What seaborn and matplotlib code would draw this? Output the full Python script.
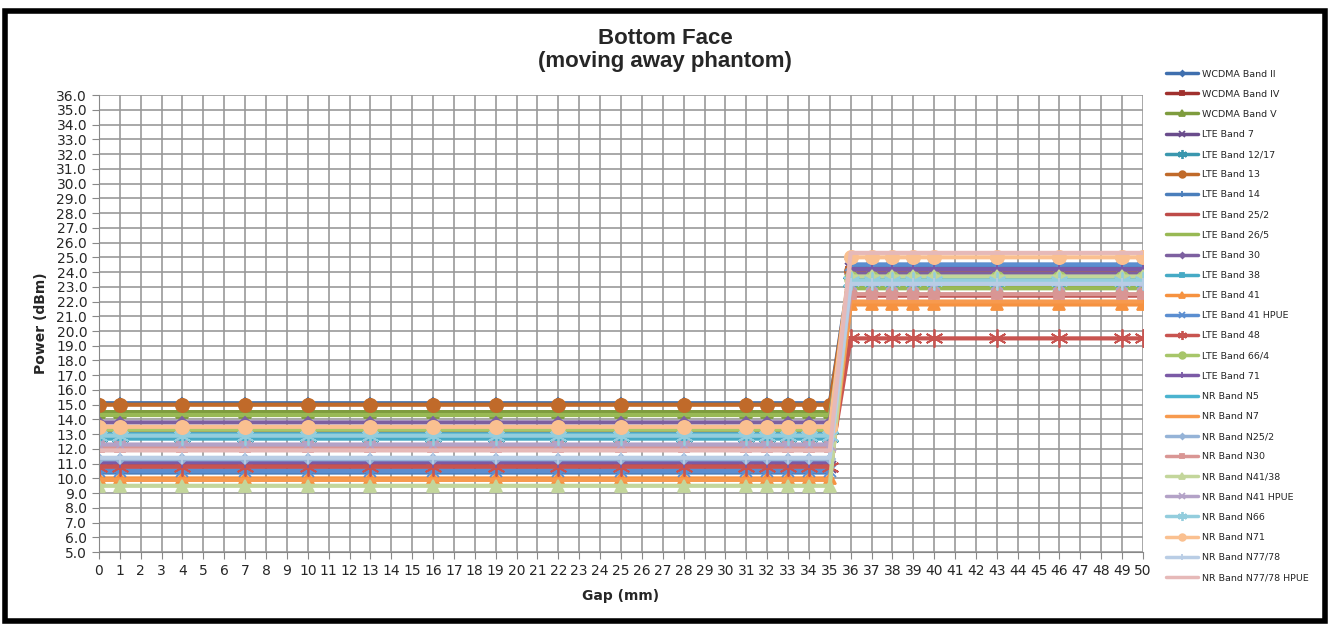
import numpy as np
import pandas as pd
import matplotlib
matplotlib.use("Agg")
import matplotlib.pyplot as plt
from matplotlib.patches import Rectangle
import seaborn as sns

# Gap positions measured (mm)
gaps = [0, 1, 4, 7, 10, 13, 16, 19, 22, 25, 28, 31, 32, 33, 34, 35,
        36, 37, 38, 39, 40, 43, 46, 49, 50]

bands = ['WCDMA Band II', 'WCDMA Band IV', 'WCDMA Band V', 'LTE Band 7',
         'LTE Band 12/17', 'LTE Band 13', 'LTE Band 14', 'LTE Band 25/2',
         'LTE Band 26/5', 'LTE Band 30', 'LTE Band 38', 'LTE Band 41',
         'LTE Band 41 HPUE', 'LTE Band 48', 'LTE Band 66/4', 'LTE Band 71',
         'NR Band N5', 'NR Band N7', 'NR Band N25/2', 'NR Band N30',
         'NR Band N41/38', 'NR Band N41 HPUE', 'NR Band N66', 'NR Band N71',
         'NR Band N77/78', 'NR Band N77/78 HPUE']

# power (dBm) with gap <= 35 mm (close to phantom) and >= 36 mm (backed off)
near_power = [15.1, 13.2, 14.5, 10.8, 12.8, 15.0, 10.4, 11.0,
              14.3, 13.8, 12.7, 10.0, 10.5, 10.8, 13.3, 11.1,
              13.0, 9.9, 11.3, 12.1, 9.5, 12.3, 12.9, 13.5,
              11.4, 11.9]
far_power = [24.3, 24.0, 23.0, 24.2, 23.3, 24.1, 24.5, 22.4,
             22.9, 23.9, 23.4, 21.8, 24.5, 19.5, 23.6, 24.2,
             23.5, 22.0, 23.3, 22.5, 23.7, 23.2, 23.4, 25.0,
             23.2, 25.3]

colors = ['#3F6FAE', '#A0302D', '#7E9C3E', '#6A4C8C', '#3A97AE', '#C06A2A',
          '#4A7EBB', '#BE4B48', '#98B954', '#7D60A0', '#46AAC5', '#F69240',
          '#5B8ED0', '#C85450', '#A7C66A', '#7B5AA6', '#4BB3CF', '#F79A4E',
          '#95B3D7', '#D99694', '#C3D69B', '#B3A2C7', '#93CDDD', '#FAC090',
          '#B9CDE5', '#E6B9B8']
ast = (6, 2, 0)  # asterisk: x with a vertical bar
markers = ['D', 's', '^', 'x', ast, 'o', '|', None,
           None, 'D', 's', '^', 'x', ast, 'o', '|',
           None, None, 'D', 's', '^', 'x', ast, 'o',
           '|', None]
marker_size = {'D': 5.5, 's': 7, '^': 9, 'x': 9, ast: 13, 'o': 9.5, '|': 8}

rows = []
for band, lo, hi in zip(bands, near_power, far_power):
    for g in gaps:
        rows.append({'Gap': g, 'Power': lo if g <= 35 else hi, 'Band': band})
df = pd.DataFrame(rows)

sns.set_style("white")
plt.rcParams['font.family'] = ['DejaVu Sans']

fig = plt.figure(figsize=(13.3, 6.26), dpi=100)
ax = fig.add_axes([0.0744, 0.118, 0.785, 0.730])

for band, col, mk in zip(bands, colors, markers):
    sub = df[df['Band'] == band]
    kw = {}
    if mk:
        kw = dict(marker=mk, markersize=marker_size[mk], markeredgewidth=1.3,
                  markeredgecolor=col, markerfacecolor=col)
    sns.lineplot(data=sub, x='Gap', y='Power', color=col, linewidth=3,
                 label=band, ax=ax, **kw)

ax.set_xlim(0, 50)
ax.set_ylim(5, 36)
ax.set_xticks(np.arange(0, 51, 1))
ax.set_yticks(np.arange(5, 36.5, 1))
ax.set_yticklabels([f'{v:.1f}' for v in np.arange(5, 36.5, 1)], fontsize=10)
ax.tick_params(axis='x', labelsize=10, length=5, color='#888888', direction='out', bottom=True)
ax.tick_params(axis='y', length=5, color='#888888', direction='out', left=True)
ax.grid(True, color='#999999', linewidth=1.2)
ax.set_axisbelow(True)
for s in ax.spines.values():
    s.set_visible(False)
ax.spines['left'].set_visible(True)
ax.spines['bottom'].set_visible(True)
ax.spines['left'].set_color('#888888')
ax.spines['bottom'].set_color('#888888')
ax.margins(x=0)

ax.set_xlabel('Gap (mm)', fontsize=10, fontweight='bold', labelpad=8)
ax.set_ylabel('Power (dBm)', fontsize=10, fontweight='bold', labelpad=6)

fig.text(0.5, 0.92, 'Bottom Face\n(moving away phantom)', ha='center', va='center',
         fontsize=16, fontweight='bold', family=['Liberation Sans', 'DejaVu Sans'],
         linespacing=1.1)

handles, labels = ax.get_legend_handles_labels()
leg = ax.legend(handles, labels, loc='upper left', bbox_to_anchor=(0.874, 0.895),
                bbox_transform=fig.transFigure, frameon=False, fontsize=6.8,
                handlelength=3.4, labelspacing=1.18, numpoints=1, borderaxespad=0,
                handletextpad=0.4, markerscale=0.5)
for line in leg.get_lines():
    line.set_linewidth(2.5)

fig.patches.append(Rectangle((0.004, 0.008), 0.992, 0.975, transform=fig.transFigure,
                             fill=False, edgecolor='black', linewidth=4))

fig.savefig('out.png', dpi=100)
